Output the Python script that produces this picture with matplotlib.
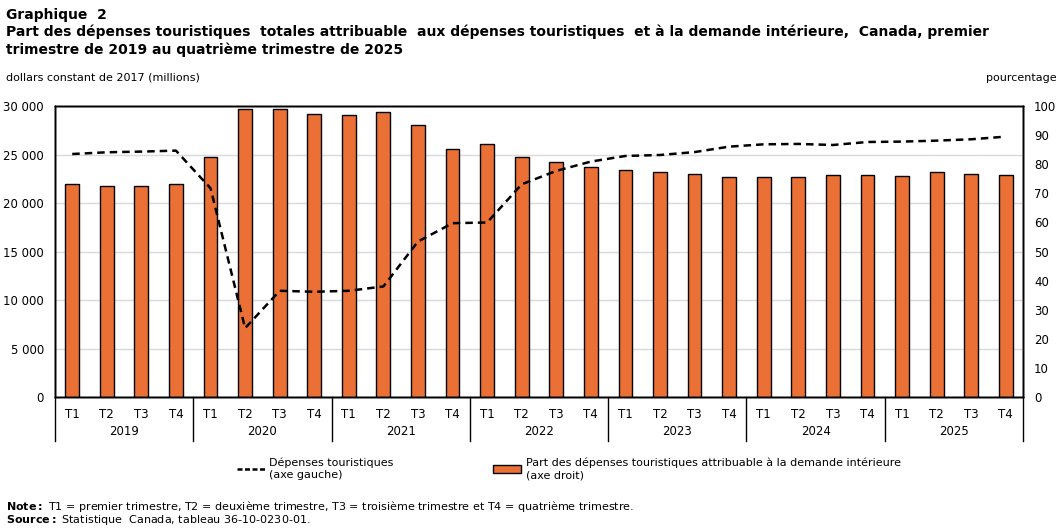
import numpy as np
import matplotlib.pyplot as plt
from matplotlib.lines import Line2D
from matplotlib.patches import Patch
from matplotlib.transforms import blended_transform_factory

years = ['2019', '2020', '2021', '2022', '2023', '2024', '2025']
quarters = ['T1', 'T2', 'T3', 'T4']

# part attribuable a la demande interieure (%), axe droit
part = [73.1, 72.4, 72.4, 73.1,
        82.4, 98.9, 98.9, 97.1,
        96.8, 97.8, 93.4, 85.1,
        86.8, 82.4, 80.7, 78.9,
        77.9, 77.2, 76.5, 75.5,
        75.5, 75.5, 76.2, 76.2,
        75.9, 77.2, 76.5, 76.2]

# depenses touristiques (millions de dollars 2017), axe gauche
depenses = [25050, 25230, 25300, 25400,
            21520, 7100, 10950, 10850,
            10950, 11400, 16030, 17920,
            17990, 21930, 23310, 24270,
            24850, 24950, 25250, 25810,
            26050, 26090, 25980, 26290,
            26330, 26430, 26570, 26840]

plt.rcParams['font.family'] = 'DejaVu Sans'
orange = '#EA7035'

fig = plt.figure(figsize=(10.63, 5.30), dpi=100)
ax = fig.add_axes([0.0517, 0.2509, 0.9107, 0.5491])
x = np.arange(len(part))

# left axis: grid + ticks
ax.set_ylim(0, 30000)
ax.set_yticks(np.arange(0, 30001, 5000))
ax.set_yticklabels([f'{v:,}'.replace(',', ' ') for v in range(0, 30001, 5000)])
ax.grid(axis='y', color='#d9d9d9', linewidth=1)
ax.set_axisbelow(True)
ax.tick_params(axis='y', length=0, labelsize=8.5, pad=8)

ax.set_xlim(-0.5, len(part) - 0.5)
ax.set_xticks(x)
ax.set_xticklabels(quarters * len(years))
ax.tick_params(axis='x', length=0, labelsize=8.5, pad=8)

# right axis: bars
ax2 = ax.twinx()
ax2.bar(x, part, width=0.4, color=orange, edgecolor='black', linewidth=1, zorder=2)
ax2.set_ylim(0, 100)
ax2.set_yticks(np.arange(0, 101, 10))
ax2.tick_params(axis='y', length=0, labelsize=8.5, pad=8)

# line on top
ax3 = ax.twinx()
ax3.plot(x, depenses, color='black', linestyle=(0, (3, 2)), linewidth=1.8)
ax3.set_ylim(0, 30000)
ax3.set_yticks([])

for a in (ax, ax2, ax3):
    for s in a.spines.values():
        s.set_linewidth(1)

trans = blended_transform_factory(ax.transData, ax.transAxes)
for i, yr in enumerate(years):
    ax.text(i * 4 + 1.5, -0.12, yr, transform=trans, ha='center', va='center', fontsize=8.5)
for i in range(len(years) + 1):
    ax.axvline(i * 4 - 0.5, ymin=-0.15, ymax=0, color='black', linewidth=1, clip_on=False)

fig.text(0.006, 0.972, 'Graphique  2', fontsize=10, fontweight='bold', va='center')
fig.text(0.006, 0.94, 'Part des dépenses touristiques  totales attribuable  aux dépenses touristiques  et à la demande intérieure,  Canada, premier',
         fontsize=10, fontweight='bold', va='center')
fig.text(0.006, 0.907, 'trimestre de 2019 au quatrième trimestre de 2025', fontsize=10, fontweight='bold', va='center')
fig.text(0.006, 0.853, 'dollars constant de 2017 (millions)', fontsize=8, va='center')
fig.text(0.994, 0.853, 'pourcentage', fontsize=8, va='center', ha='right')

handles = [Line2D([0], [0], color='black', linestyle=(0, (2, 1)), linewidth=1.8),
           Patch(facecolor=orange, edgecolor='black', linewidth=1)]
labels = ['Dépenses touristiques\n(axe gauche)',
          'Part des dépenses touristiques attribuable à la demande intérieure\n(axe droit)']
fig.legend(handles, labels, loc='center', bbox_to_anchor=(0.535, 0.115), ncol=2, frameon=False,
           fontsize=8, handlelength=2.5, handleheight=0.7, columnspacing=9, handletextpad=0.4)

fig.text(0.006, 0.045, r'$\bf{Note:}$ T1 = premier trimestre, T2 = deuxième trimestre, T3 = troisième trimestre et T4 = quatrième trimestre.',
         fontsize=8, va='center')
fig.text(0.006, 0.018, r'$\bf{Source:}$ Statistique  Canada, tableau 36-10-0230-01.', fontsize=8, va='center')

fig.savefig('out.png', dpi=100)
